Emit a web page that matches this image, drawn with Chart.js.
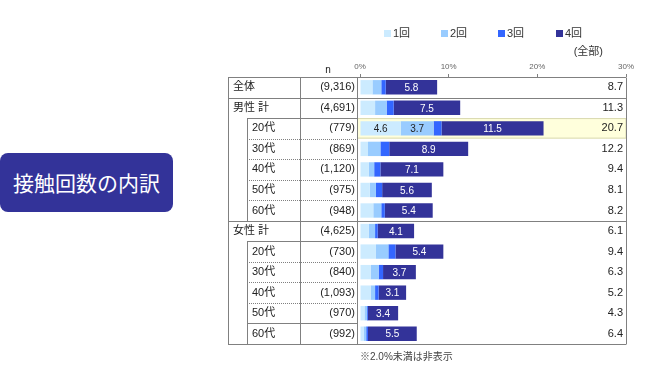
<!DOCTYPE html>
<html>
<head>
<meta charset="utf-8">
<script src="https://cdn.jsdelivr.net/npm/chart.js@4/dist/chart.umd.min.js"></script>
<style>
  body { margin: 0; background: #fff; }
  #wrap { position: relative; width: 653px; height: 367px; }
  #title {
    position: absolute; left: 0; top: 153px; width: 173px; height: 59px;
    background: #333399; border-radius: 8px; color: #fff;
    font: 21px "Noto Sans CJK JP", sans-serif; line-height: 59px; text-align: center;
  }
</style>
</head>
<body>
<div id="wrap">
  <canvas id="myChart" width="653" height="367"></canvas>
  <div id="title">接触回数の内訳</div>
</div>
<script>
// rows of the table
const categories = ['全体', '男性 計', '20代', '30代', '40代', '50代', '60代', '女性 計', '20代', '30代', '40代', '50代', '60代'];
const nValues = ['(9,316)', '(4,691)', '(779)', '(869)', '(1,120)', '(975)', '(948)', '(4,625)', '(730)', '(840)', '(1,093)', '(970)', '(992)'];
// series (%)
const once = [1.4, 1.7, 4.6, 0.9, 1.0, 1.1, 1.5, 1.0, 1.8, 1.2, 1.2, 0.5, 0.4];
const twice = [1.0, 1.3, 3.7, 1.4, 0.6, 0.7, 0.9, 0.7, 1.4, 0.9, 0.5, 0.3, 0.3];
const thrice = [0.5, 0.8, 0.9, 1.0, 0.7, 0.7, 0.4, 0.3, 0.8, 0.5, 0.4, 0.1, 0.2];
const fourPlus = [5.8, 7.5, 11.5, 8.9, 7.1, 5.6, 5.4, 4.1, 5.4, 3.7, 3.1, 3.4, 5.5];
const totals = [8.7, 11.3, 20.7, 12.2, 9.4, 8.1, 8.2, 6.1, 9.4, 6.3, 5.2, 4.3, 6.4];
const seriesNames = ['1回', '2回', '3回', '4回'];
const colors = ['#CCEBFF', '#99CCFF', '#3366FF', '#333399'];
const xTicks = [0, 10, 20, 30];

const FONT = '"Liberation Sans", "Noto Sans CJK JP", sans-serif';
const highlightRow = 2;

const tablePlugin = {
  id: 'table',
  beforeDatasetsDraw(chart) {
    const ctx = chart.ctx, y = chart.scales.y, a = chart.chartArea;
    const band = (a.bottom - a.top) / categories.length;
    const yc = y.getPixelForValue(highlightRow);
    ctx.save();
    ctx.fillStyle = '#FFFFDC';
    ctx.strokeStyle = '#D9D9B0';
    ctx.fillRect(357, yc - band / 2, a.right - 357, band);
    ctx.strokeRect(357.5, yc - band / 2 + 0.5, a.right - 357.5, band - 1);
    ctx.restore();
  },
  afterDraw(chart) {
    const ctx = chart.ctx, y = chart.scales.y, a = chart.chartArea;
    const band = (a.bottom - a.top) / categories.length;
    const edge = i => Math.round(y.getPixelForValue(i) + band / 2) + 0.5;
    ctx.save();
    ctx.lineWidth = 1;
    ctx.strokeStyle = '#808080';
    const line = (x1, y1, x2, y2, dotted) => {
      ctx.setLineDash(dotted ? [1, 1] : []);
      ctx.beginPath(); ctx.moveTo(x1, y1); ctx.lineTo(x2, y2); ctx.stroke();
    };
    const top = Math.round(a.top) + 0.5, bottom = Math.round(a.bottom) + 0.5;
    line(228, top, a.right, top);
    line(228, bottom, a.right, bottom);
    line(228.5, top, 228.5, bottom);
    line(300.5, top, 300.5, bottom);
    line(357.5, top, 357.5, bottom);
    line(Math.round(a.right) + 0.5, top, Math.round(a.right) + 0.5, bottom);
    // group separators
    line(228, edge(0), a.right, edge(0));
    line(228, edge(6), a.right, edge(6));
    // sub rows
    line(247.5, edge(1), 247.5, edge(6));
    line(247.5, edge(7), 247.5, bottom);
    [1, 7, 11].forEach(i => line(247, edge(i), 357, edge(i)));
    [2, 3, 4, 5, 8, 9, 10].forEach(i => line(247, edge(i), 357, edge(i), true));
    ctx.setLineDash([]);

    // texts
    ctx.textBaseline = 'middle';
    ctx.fillStyle = '#222';
    categories.forEach((c, i) => {
      const yc = y.getPixelForValue(i);
      const sub = !(i === 0 || i === 1 || i === 7);
      ctx.font = '11px ' + FONT;
      ctx.textAlign = 'left';
      ctx.fillText(c, sub ? 252 : 233, yc);
      ctx.textAlign = 'right';
      ctx.fillText(nValues[i], 355, yc);
      ctx.font = '11px ' + FONT;
      ctx.fillText(totals[i].toFixed(1), 623, yc);
    });
    ctx.textAlign = 'center';
    ctx.font = '10px ' + FONT;
    ctx.fillText('n', 328, 70);

    // values inside bars (>= 2.0%)
    ctx.font = '10px ' + FONT;
    chart.data.datasets.forEach((ds, di) => {
      const meta = chart.getDatasetMeta(di);
      meta.data.forEach((bar, i) => {
        const v = ds.data[i];
        if (v < 2) return;
        ctx.fillStyle = di >= 2 ? '#fff' : '#222';
        ctx.fillText(v.toFixed(1), (bar.x + bar.base) / 2, bar.y + 1);
      });
    });

    // legend
    ctx.textAlign = 'left';
    ctx.font = '11px ' + FONT;
    const lx = [384, 441, 498, 556];
    seriesNames.forEach((s, i) => {
      ctx.fillStyle = colors[i];
      ctx.fillRect(lx[i], 30, 7, 7);
      ctx.fillStyle = '#333';
      ctx.fillText(s, lx[i] + 9, 34);
    });
    ctx.textAlign = 'right';
    ctx.fillText('(全部)', 603, 52);
    ctx.textAlign = 'left';
    ctx.font = '10px ' + FONT;
    ctx.fillStyle = '#444';
    ctx.fillText('※2.0%未満は非表示', 360, 357);
    ctx.restore();
  }
};

const data = {
  labels: categories,
  datasets: [once, twice, thrice, fourPlus].map((d, i) => ({
    label: seriesNames[i],
    data: d,
    backgroundColor: colors[i],
    borderWidth: 0,
    barPercentage: 0.7,
    categoryPercentage: 1
  }))
};

const config = {
  type: 'bar',
  data: data,
  options: {
    indexAxis: 'y',
    responsive: false,
    animation: false,
    layout: { padding: { left: 360, right: 27, top: 61, bottom: 23 } },
    plugins: { legend: { display: false }, tooltip: { enabled: false } },
    scales: {
      x: {
        position: 'top',
        stacked: true,
        min: 0, max: 30,
        afterFit: s => { s.height = 16; },
        afterBuildTicks: s => { s.ticks = xTicks.map(v => ({ value: v })); },
        ticks: { callback: v => v + '%', font: { size: 8, family: FONT }, color: '#666', padding: 2, maxRotation: 0 },
        grid: { drawOnChartArea: false, tickLength: 3, color: '#808080' },
        border: { display: false }
      },
      y: { stacked: true, display: false }
    }
  },
  plugins: [tablePlugin]
};

const myChart = new Chart(document.getElementById('myChart'), config);
</script>
</body>
</html>
